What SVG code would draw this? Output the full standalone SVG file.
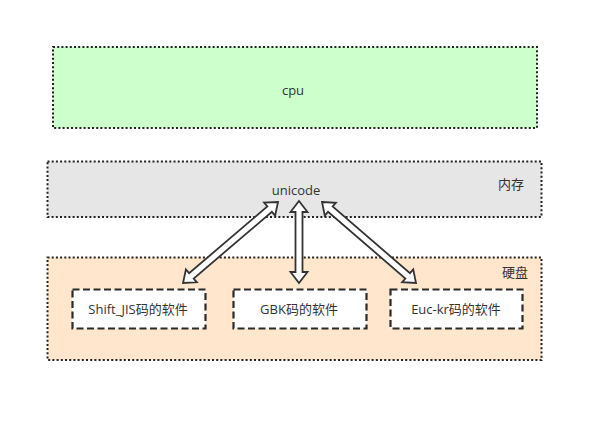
<svg xmlns="http://www.w3.org/2000/svg" width="604" height="423" viewBox="0 0 604 423">
<style>
.grp{stroke:#222;stroke-width:2;stroke-dasharray:2 2.2}
.sw{fill:#fff;stroke:#2a2a2a;stroke-width:2.2;stroke-dasharray:7 3.5}
.t{font-family:"Open Sans","Noto Sans CJK SC",sans-serif;font-size:13px;fill:#333;text-anchor:middle;dominant-baseline:central}
.ar{fill:#fff;stroke:#333;stroke-width:1.8;stroke-linejoin:miter}
</style>
<rect width="604" height="423" fill="#fff"/>
<g id="cpu">
<rect class="grp" x="53" y="47" width="484" height="81" fill="#ccffcc"/>
<text class="t" x="293" y="90">cpu</text>
</g>
<g id="memory">
<rect class="grp" x="47.5" y="161.5" width="494" height="55.5" fill="#e6e6e6"/>
<text class="t" x="296" y="190">unicode</text>
<text class="t" x="511" y="184">内存</text>
</g>
<g id="disk">
<rect class="grp" x="47.5" y="257.5" width="494" height="102.5" fill="#ffe6cc"/>
<text class="t" x="515" y="272">硬盘</text>
</g>
<g id="shiftjis">
<rect class="sw" x="72.5" y="289.5" width="133" height="39"/>
<text class="t" x="138" y="309">Shift_JIS码的软件</text>
</g>
<g id="gbk">
<rect class="sw" x="233.5" y="289.5" width="133" height="39"/>
<text class="t" x="299" y="309">GBK码的软件</text>
</g>
<g id="euckr">
<rect class="sw" x="390.5" y="289.5" width="132" height="39"/>
<text class="t" x="456" y="309">Euc-kr码的软件</text>
</g>
<g id="connectors">
<polygon class="ar" transform="translate(278,202) rotate(139.55)" points="0,0 11,-8.5 11,-3.5 113.8,-3.5 113.8,-8.5 124.8,0 113.8,8.5 113.8,3.5 11,3.5 11,8.5"/>
<polygon class="ar" transform="translate(299,201) rotate(90)" points="0,0 11,-8.5 11,-3.5 71,-3.5 71,-8.5 82,0 71,8.5 71,3.5 11,3.5 11,8.5"/>
<polygon class="ar" transform="translate(322,202) rotate(40.75)" points="0,0 11,-8.5 11,-3.5 113.1,-3.5 113.1,-8.5 124.1,0 113.1,8.5 113.1,3.5 11,3.5 11,8.5"/>
</g>
</svg>
